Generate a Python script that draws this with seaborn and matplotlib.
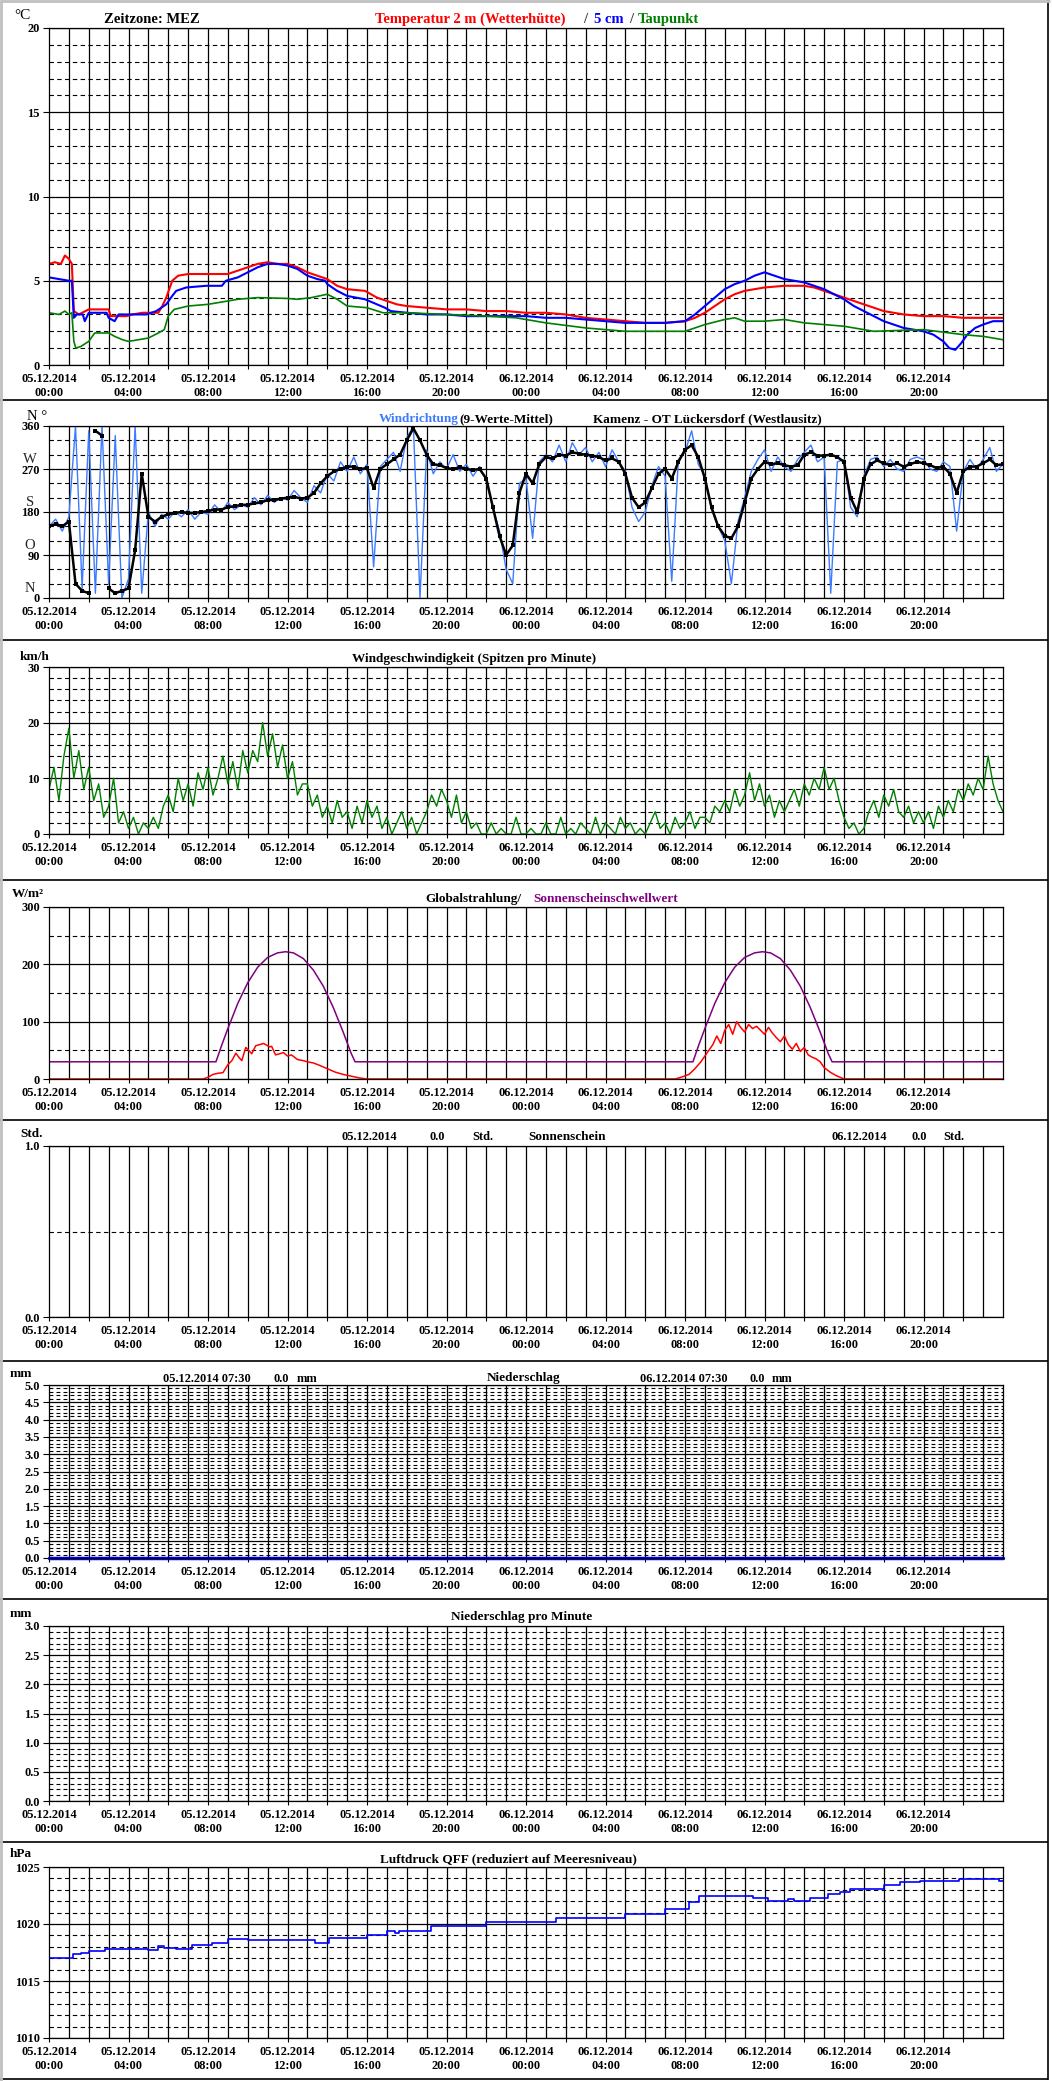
import matplotlib.pyplot as plt
import matplotlib.ticker as mticker
import numpy as np
import pandas as pd
import seaborn as sns

W, H = 1052, 2081

# x axis labels (hours since 05.12.2014 00:00)
xtick_hours = [0, 4, 8, 12, 16, 20, 24, 28, 32, 36, 40, 44]
xtick_dates = ["05.12.2014"] * 6 + ["06.12.2014"] * 6
xtick_times = ["00:00", "04:00", "08:00", "12:00", "16:00", "20:00"] * 2

# temperature 2 m (red)
t2m_h = [0, 0.3, 0.6, 0.8, 1.0, 1.15, 1.25, 1.5, 2.0, 3.0, 3.1, 3.9, 4.2, 4.7, 5.5, 5.7,
         5.9, 6.2, 6.5, 7.0, 8.0, 9.0, 9.5, 10.0, 10.5, 11.0, 11.5, 12.0, 12.5, 13.0,
         13.5, 14.0, 14.5, 15.0, 15.9, 16.5, 17.0, 17.5, 18.0, 19.0, 20.0, 21.0, 22.0,
         23.0, 24.0, 25.0, 26.0, 27.0, 28.0, 29.0, 30.0, 31.0, 32.0, 32.5, 33.0, 33.5,
         34.0, 34.5, 35.0, 35.5, 36.0, 37.0, 38.0, 38.5, 39.0, 39.5, 40.0, 40.5, 41.0,
         41.5, 42.0, 43.0, 44.0, 45.0, 46.0, 47.0, 48.0]
t2m = [6.0, 6.1, 6.0, 6.5, 6.3, 6.0, 3.2, 3.0, 3.3, 3.3, 2.9, 2.9, 3.0, 3.1, 3.1, 3.5,
       4.0, 5.0, 5.3, 5.4, 5.4, 5.4, 5.6, 5.8, 6.0, 6.1, 6.0, 6.0, 5.8, 5.5,
       5.3, 5.1, 4.7, 4.5, 4.4, 4.0, 3.8, 3.6, 3.5, 3.4, 3.3, 3.3, 3.2,
       3.2, 3.1, 3.1, 3.0, 2.8, 2.7, 2.6, 2.5, 2.5, 2.6, 2.8, 3.1, 3.5,
       3.9, 4.2, 4.4, 4.5, 4.6, 4.7, 4.7, 4.6, 4.4, 4.2, 4.0, 3.8, 3.6,
       3.4, 3.2, 3.0, 2.9, 2.9, 2.8, 2.8, 2.8]

# temperature 5 cm (blue)
t5_h = [0, 0.5, 1.0, 1.15, 1.25, 1.4, 1.7, 1.8, 2.0, 2.9, 3.0, 3.3, 3.5, 4.9, 5.4, 5.9,
        6.2, 6.4, 6.9, 7.9, 8.7, 8.9, 9.5, 10.0, 10.5, 11.0, 11.5, 12.0, 12.5, 13.0,
        13.5, 13.9, 14.0, 14.5, 15.0, 15.9, 16.9, 17.2, 18.0, 19.0, 20.0, 21.0, 22.0,
        23.0, 24.0, 25.0, 26.0, 27.0, 28.0, 29.0, 30.0, 31.0, 32.0, 32.5, 33.0, 33.5,
        34.0, 34.5, 35.0, 35.5, 36.0, 36.5, 37.0, 37.5, 38.0, 38.5, 39.0, 39.5, 40.0,
        40.5, 41.0, 41.5, 42.0, 42.5, 43.0, 43.5, 44.0, 44.5, 45.0, 45.3, 45.6, 45.9,
        46.2, 46.6, 47.0, 47.5, 48.0]
t5 = [5.2, 5.1, 5.0, 5.0, 2.8, 3.0, 3.0, 2.6, 3.1, 3.1, 2.8, 2.6, 3.0, 3.0, 3.2, 3.6,
      4.1, 4.4, 4.6, 4.7, 4.7, 5.0, 5.2, 5.5, 5.8, 6.0, 6.0, 5.9, 5.7, 5.3,
      5.1, 5.0, 4.8, 4.4, 4.1, 3.9, 3.4, 3.2, 3.1, 3.0, 3.0, 2.9, 2.9,
      2.9, 2.9, 2.8, 2.8, 2.7, 2.6, 2.5, 2.5, 2.5, 2.6, 3.0, 3.5, 4.0,
      4.5, 4.8, 5.0, 5.3, 5.5, 5.3, 5.1, 5.0, 4.9, 4.7, 4.5, 4.2, 3.9,
      3.5, 3.2, 2.9, 2.6, 2.4, 2.2, 2.1, 2.0, 1.8, 1.4, 1.0, 0.9, 1.3,
      1.8, 2.2, 2.4, 2.6, 2.6]

# dew point (green)
td_h = [0, 0.5, 0.8, 1.0, 1.15, 1.25, 1.35, 1.6, 2.0, 2.3, 3.0, 3.3, 3.7, 4.0, 4.5, 5.0,
        5.5, 5.8, 6.0, 6.3, 7.0, 8.0, 9.0, 9.5, 10.5, 12.0, 12.5, 13.2, 14.0, 14.5,
        15.0, 16.0, 16.8, 18.0, 20.0, 22.0, 23.5, 25.0, 27.0, 29.0, 32.0, 33.0, 34.0,
        34.5, 35.0, 36.0, 37.0, 38.0, 40.0, 41.5, 44.0, 46.0, 47.0, 48.0]
td = [3.1, 3.0, 3.2, 3.0, 3.1, 1.4, 1.0, 1.1, 1.4, 1.9, 1.9, 1.7, 1.5, 1.4, 1.5, 1.6,
      1.9, 2.1, 2.9, 3.3, 3.5, 3.6, 3.8, 3.9, 4.0, 3.95, 3.9, 4.0, 4.2, 3.9,
      3.5, 3.4, 3.1, 3.1, 3.0, 2.9, 2.8, 2.5, 2.2, 2.0, 2.0, 2.4, 2.7,
      2.8, 2.6, 2.6, 2.7, 2.5, 2.3, 2.0, 2.1, 1.8, 1.7, 1.5]

# wind direction, 20 min values: raw (blue) and 9-value mean (black)
wd_raw = [150, 165, 140, 170, 360, 20, 350, 10, 360, 30, 340, 0, 40, 360, 10,
          180, 150, 175, 165, 180, 170, 185, 165, 180, 175, 195, 180, 200, 185, 195,
          190, 210, 195, 215, 200, 210, 205, 225, 210, 200, 235, 220, 260, 245, 285,
          265, 295, 260, 280, 65, 275, 290, 305, 265, 335, 360, 0, 310, 260, 285,
          270, 300, 265, 280, 255, 275, 245, 190, 140, 60, 30, 240, 250, 125, 285,
          300, 285, 320, 285, 325, 300, 315, 285, 305, 275, 310, 285, 265, 190, 160,
          180, 235, 275, 255, 35, 290, 305, 350, 280, 255, 185, 150, 120, 30, 160,
          210, 265, 290, 310, 265, 295, 275, 265, 290, 305, 320, 285, 295, 10, 285,
          290, 190, 170, 255, 290, 295, 275, 290, 270, 265, 290, 295, 290, 270, 265,
          285, 275, 140, 265, 290, 270, 290, 315, 265, 280]
wd_mean = [150, 155, 150, 160, 30, 15, 10, 350, 340, 20, 10, 15, 20, 100, 260,
           170, 160, 170, 175, 178, 180, 178, 178, 180, 182, 185, 185, 190, 192, 195,
           195, 198, 200, 205, 205, 208, 210, 212, 208, 210, 220, 240, 255, 265, 270,
           275, 275, 270, 272, 230, 270, 280, 290, 300, 330, 355, 330, 300, 280, 278,
           272, 270, 274, 270, 268, 270, 250, 190, 130, 90, 110, 220, 260, 240, 280,
           295, 292, 300, 298, 305, 302, 300, 298, 295, 288, 292, 285, 260, 210, 190,
           200, 230, 260, 270, 250, 285, 310, 320, 295, 250, 190, 150, 130, 125, 150,
           200, 250, 270, 285, 280, 282, 278, 275, 278, 300, 305, 298, 298, 300, 295,
           285, 210, 180, 250, 280, 288, 282, 278, 282, 275, 280, 285, 282, 278, 272,
           275, 260, 220, 265, 275, 275, 282, 290, 278, 280]

# wind speed peaks, 15 min values (km/h)
ws = [8, 12, 6, 14, 19, 10, 15, 8, 12, 6, 9, 3, 5, 10, 2, 4,
      1, 3, 0, 2, 1, 3, 1, 5, 7, 4, 10, 6, 9, 5, 11, 8,
      12, 7, 10, 14, 9, 13, 8, 15, 11, 15, 13, 20, 14, 18, 12, 16,
      10, 13, 7, 9, 9, 5, 7, 3, 5, 2, 6, 3, 4, 1, 5, 2,
      6, 3, 5, 1, 3, 0, 2, 4, 1, 3, 0, 2, 4, 7, 5, 8,
      6, 3, 7, 2, 4, 1, 2, 0, 0, 2, 0, 1, 0, 0, 3, 0,
      0, 1, 0, 0, 2, 0, 0, 3, 0, 1, 0, 2, 1, 0, 3, 0,
      2, 1, 0, 3, 1, 2, 0, 1, 0, 2, 4, 1, 2, 0, 3, 1,
      2, 4, 1, 3, 3, 2, 5, 4, 6, 4, 8, 5, 7, 11, 6, 9,
      5, 7, 3, 6, 4, 6, 8, 5, 9, 7, 10, 8, 12, 8, 10, 6,
      3, 1, 2, 0, 1, 4, 6, 3, 7, 5, 8, 4, 3, 5, 2, 4,
      2, 4, 1, 5, 3, 6, 4, 8, 6, 9, 7, 10, 8, 14, 9, 6, 4]

# global radiation (red) and sunshine threshold (purple), W/m2
rad_h = [0, 7.75, 8.0, 8.25, 8.5, 8.75, 9.0, 9.2, 9.4, 9.55, 9.7, 9.9, 10.1, 10.2, 10.4,
         10.6, 10.8, 10.9, 11.1, 11.2, 11.4, 11.6, 11.8, 12.0, 12.2, 12.5, 12.8, 13.0,
         13.3, 13.6, 14.0, 14.4, 14.8, 15.2, 15.6, 16.0, 31.5, 31.8, 32.2, 32.5, 32.8,
         33.1, 33.4, 33.6, 33.8, 34.0, 34.2, 34.4, 34.6, 34.8, 35.0, 35.2, 35.4, 35.6,
         35.8, 36.0, 36.2, 36.4, 36.6, 36.8, 37.0, 37.2, 37.4, 37.6, 37.8, 38.0, 38.2,
         38.4, 38.6, 38.8, 39.0, 39.3, 39.6, 40.0, 48.0]
rad = [0, 0, 3, 8, 10, 11, 25, 32, 45, 38, 32, 55, 48, 44, 58,
       60, 62, 60, 56, 57, 42, 44, 46, 40, 42, 34, 32, 30,
       28, 24, 18, 12, 8, 5, 2, 0, 0, 3, 8, 18, 30,
       45, 60, 75, 62, 85, 95, 78, 100, 90, 82, 95, 88, 92,
       85, 78, 90, 80, 72, 65, 75, 60, 52, 62, 48, 55, 42,
       38, 35, 30, 20, 12, 6, 0, 0]
sun_h = [0, 8.4, 8.7, 9.0, 9.5, 10.0, 10.5, 11.0, 11.5, 11.9, 12.3, 12.8, 13.3, 13.8,
         14.3, 14.8, 15.2, 15.4, 32.4, 32.7, 33.0, 33.5, 34.0, 34.5, 35.0, 35.5, 35.9,
         36.3, 36.8, 37.3, 37.8, 38.3, 38.8, 39.2, 39.4, 48.0]
sun_thr = [30, 30, 60, 88, 132, 168, 195, 212, 220, 222, 220, 210, 190, 162,
           125, 82, 45, 30, 30, 60, 88, 132, 168, 195, 212, 220, 222,
           220, 210, 190, 162, 125, 82, 45, 30, 30]

# precipitation sum (mm)
rain_h = [0, 48]
rain = [0.0, 0.0]

# air pressure QFF (hPa)
p_h = [0, 1.1, 1.2, 1.6, 2.0, 2.8, 5.0, 5.5, 5.8, 6.4, 7.2, 8.2, 9.0, 10.0, 13.4, 14.1,
       16.0, 17.0, 17.4, 17.6, 19.2, 22.0, 25.5, 29.0, 31.0, 32.2, 32.7, 35.4, 36.2,
       37.2, 37.5, 38.3, 39.2, 39.8, 40.3, 42.0, 42.8, 43.8, 45.8, 47.8, 48.0]
p = [1017.0, 1017.0, 1017.35, 1017.5, 1017.6, 1017.8, 1017.75, 1018.05, 1017.9, 1017.8,
     1018.15, 1018.3, 1018.7, 1018.6, 1018.35, 1018.75, 1019.0, 1019.4, 1019.2, 1019.4,
     1019.8, 1020.2, 1020.5, 1020.9, 1021.3, 1021.9, 1022.5, 1022.3, 1022.0, 1022.2,
     1022.0, 1022.3, 1022.6, 1022.8, 1023.1, 1023.4, 1023.7, 1023.75, 1023.95, 1023.75,
     1023.75]

sns.set_style("white")
plt.rcParams["font.family"] = ["Liberation Serif", "DejaVu Serif"]
plt.rcParams["font.weight"] = "bold"

fig = plt.figure(figsize=(W / 100, H / 100), dpi=100)
bg = fig.add_axes([0, 0, 1, 1], zorder=-1)
bg.set_xlim(0, W)
bg.set_ylim(H, 0)
bg.axis("off")

# page borders and separators
bg.hlines([400, 640, 880, 1120, 1361, 1599, 1842, 2079], 0, 1048, colors="black", lw=1.2)
bg.vlines(1048, 0, 2080, colors="black", lw=1.2)
bg.hlines(1, 0, 1050, colors="#c0c0c0", lw=2)
bg.vlines(1, 0, 2081, colors="#c0c0c0", lw=2)


def panel(top, bottom, ylo, yhi, major, minor, fmt, dash=(4, 3)):
    ax = fig.add_axes([49 / W, 1 - bottom / H, 954 / W, (bottom - top) / H])
    ax.set_xlim(0, 48)
    ax.set_ylim(ylo, yhi)
    ax.set_xticks(xtick_hours)
    ax.set_xticklabels([f"{d}\n{t}" for d, t in zip(xtick_dates, xtick_times)],
                       linespacing=1.15)
    ax.set_xticks(range(2, 48, 4), minor=True)
    ax.yaxis.set_major_locator(mticker.MultipleLocator(major))
    ax.yaxis.set_minor_locator(mticker.MultipleLocator(minor))
    ax.yaxis.set_major_formatter(mticker.FormatStrFormatter(fmt))
    ax.tick_params(axis="x", which="both", bottom=True, direction="out", length=3,
                   width=0.8, pad=3, labelsize=8.9, colors="black")
    ax.tick_params(axis="y", which="major", left=True, direction="out", length=4.5,
                   width=0.8, pad=2, labelsize=8.9, colors="black")
    ax.tick_params(axis="y", which="minor", left=False, length=0)
    ax.grid(True, which="major", axis="y", color="black", lw=0.9)
    ax.grid(True, which="minor", axis="y", color="black", lw=0.8, linestyle=(0, dash))
    ax.grid(False, axis="x")
    ax.vlines(range(1, 48), 0, 1, transform=ax.get_xaxis_transform(),
              colors="black", lw=0.9, zorder=1)
    for s in ax.spines.values():
        s.set_color("black")
        s.set_linewidth(0.9)
    ax.set_axisbelow(True)
    return ax


def txt(x, y, s, color="black", size=9.5, weight="bold", ha="left"):
    bg.text(x, y, s, color=color, fontsize=size, fontweight=weight, ha=ha, va="baseline")


# --- panel 1: temperatures ---
ax1 = panel(28, 365, 0, 20, 5, 1, "%d")
sns.lineplot(x=t2m_h, y=t2m, ax=ax1, color="#ff0000", lw=1.5, estimator=None)
sns.lineplot(x=t5_h, y=t5, ax=ax1, color="#0000ff", lw=1.5, estimator=None)
sns.lineplot(x=td_h, y=td, ax=ax1, color="#008000", lw=1.2, estimator=None)
txt(14, 19, "°C", size=11, weight="normal")
txt(104, 23, "Zeitzone: MEZ", size=10.5)
txt(375, 23, "Temperatur 2 m (Wetterhütte)", color="#ff0000", size=10.5)
txt(583, 23, "/", color="#404040", size=10.5)
txt(594, 23, "5 cm", color="#0000ff", size=10.5)
txt(629, 23, "/", color="#404040", size=10.5)
txt(638, 23, "Taupunkt", color="#008000", size=10.5)

# --- panel 2: wind direction ---
ax2 = panel(426, 598, 0, 360, 90, 30, "%d")
h_wd = np.arange(len(wd_raw)) / 3
sns.lineplot(x=h_wd, y=wd_raw, ax=ax2, color="#3d7bff", lw=1.0, estimator=None)
wd = pd.DataFrame({"h": h_wd, "deg": wd_mean})
wd["seg"] = (wd["deg"].diff().abs() > 180).cumsum()
sns.lineplot(data=wd, x="h", y="deg", units="seg", estimator=None, ax=ax2,
             color="black", lw=1.8, marker="s", markersize=2.2, markeredgewidth=0)
ax2.set(xlabel="", ylabel="")
for v, letter in zip([0, 90, 180, 270], ["N", "O", "S", "W"]):
    ax2.text(-19 / 954, v + 12.5, letter, transform=ax2.get_yaxis_transform(),
             ha="center", va="baseline", fontsize=10.5, fontweight="normal")
txt(27, 420, "N °", size=10.5, weight="normal")
txt(379, 422, "Windrichtung", color="#3d7bff")
txt(459, 422, "(9-Werte-Mittel)")
txt(593, 422, "Kamenz - OT Lückersdorf (Westlausitz)")

# --- panel 3: wind speed ---
ax3 = panel(667, 834, 0, 30, 10, 2, "%d")
sns.lineplot(x=np.arange(len(ws)) / 4, y=ws, ax=ax3, color="#008000", lw=1.0,
             estimator=None)
txt(20, 660, "km/h")
txt(352, 662, "Windgeschwindigkeit (Spitzen pro Minute)")

# --- panel 4: global radiation ---
ax4 = panel(907, 1079, 0, 300, 100, 50, "%d")
sns.lineplot(x=sun_h, y=sun_thr, ax=ax4, color="#800080", lw=1.1, estimator=None)
sns.lineplot(x=rad_h, y=rad, ax=ax4, color="#ff0000", lw=1.1, estimator=None)
txt(12, 897, "W/m²")
txt(425, 902, "Globalstrahlung/")
txt(533, 902, "Sonnenscheinschwellwert", color="#800080")

# --- panel 5: sunshine ---
ax5 = panel(1146, 1317, 0, 1.0, 1.0, 0.5, "%.1f")
txt(20, 1137, "Std.")
txt(341, 1140, "05.12.2014", size=8.9)
txt(430, 1140, "0.0", size=8.9)
txt(472, 1140, "Std.", size=8.9)
txt(528, 1140, "Sonnenschein")
txt(832, 1140, "06.12.2014", size=8.9)
txt(912, 1140, "0.0", size=8.9)
txt(943, 1140, "Std.", size=8.9)

# --- panel 6: precipitation ---
ax6 = panel(1385, 1558, 0, 5.0, 0.5, 0.1, "%.1f", dash=(3.5, 2.8))
sns.lineplot(x=rain_h, y=rain, ax=ax6, color="#0000ff", lw=2.5, estimator=None, clip_on=False)
txt(10, 1377, "mm")
txt(163, 1382, "05.12.2014 07:30", size=8.9)
txt(274, 1382, "0.0", size=8.9)
txt(297, 1382, "mm", size=8.9)
txt(487, 1381, "Niederschlag")
txt(640, 1382, "06.12.2014 07:30", size=8.9)
txt(750, 1382, "0.0", size=8.9)
txt(772, 1382, "mm", size=8.9)

# --- panel 7: precipitation per minute ---
ax7 = panel(1626, 1801, 0, 3.0, 0.5, 0.1, "%.1f", dash=(3.5, 2.8))
txt(10, 1617, "mm")
txt(451, 1620, "Niederschlag pro Minute")

# --- panel 8: pressure ---
ax8 = panel(1867, 2038, 1010, 1025, 5, 1, "%d")
sns.lineplot(x=p_h, y=p, ax=ax8, color="#0000ff", lw=1.2, estimator=None,
             drawstyle="steps-post")
txt(10, 1857, "hPa")
txt(380, 1862, "Luftdruck QFF (reduziert auf Meeresniveau)")

for ax in [ax1, ax2, ax3, ax4, ax5, ax6, ax7, ax8]:
    ax.set(xlabel="", ylabel="")

fig.savefig("out.png", dpi=100, facecolor="white")
